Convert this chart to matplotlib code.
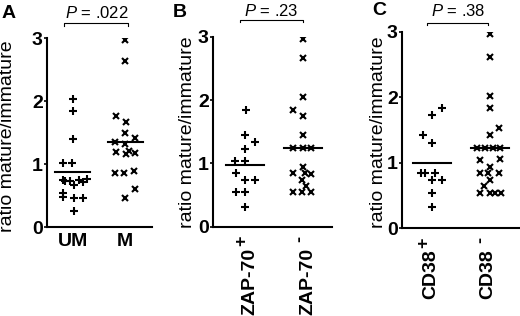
import matplotlib
matplotlib.use('Agg')
import matplotlib.pyplot as plt

plt.rcParams['font.family'] = ['Liberation Sans', 'DejaVu Sans']
plt.rcParams['mathtext.fontset'] = 'custom'
plt.rcParams['mathtext.rm'] = 'Liberation Sans'
plt.rcParams['mathtext.it'] = 'Liberation Sans:italic'
plt.rcParams['mathtext.bf'] = 'Liberation Sans:bold'

# panel A: unmutated (UM) vs mutated (M)
um_vals = [2.03, 1.85, 1.40, 1.02, 1.02, 0.75, 0.73, 0.73, 0.67, 0.75, 0.72, 0.77,
           0.54, 0.48, 0.47, 0.47, 0.26]
um_jit = [0, 0, 0, -0.18, -0.02, -0.19, -0.14, -0.05, 0.02, 0.11, 0.19, 0.28,
          -0.19, -0.19, 0.02, 0.19, 0.02]
m_vals = [2.97, 2.64, 1.77, 1.67, 1.49, 1.35, 1.33, 1.41, 1.20, 1.17, 1.21, 1.18,
          0.86, 0.86, 0.90, 0.61, 0.47]
m_jit = [0, 0, -0.17, 0.02, 0, -0.19, 0, 0.19, -0.17, 0.02, 0.08, 0.19,
         -0.19, -0.02, 0.17, 0.19, 0]
a_means = [0.88, 1.35]

# panel B: ZAP-70 positive vs negative
zp_vals = [1.84, 1.45, 1.33, 1.22, 1.03, 1.03, 0.84, 0.73, 0.73, 0.55, 0.55, 0.31]
zp_jit = [0.02, 0, 0.17, 0, -0.17, 0, -0.16, 0, 0.18, -0.16, 0, 0]
zn_vals = [2.97, 2.66, 2.04, 1.84, 1.75, 1.44, 1.25, 1.25, 1.25, 0.94, 0.84, 0.84,
           0.83, 0.73, 0.65, 0.54, 0.54, 0.54]
zn_jit = [0, 0, 0, -0.17, 0, 0, -0.17, 0, 0.14, 0, -0.17, 0.03,
          0.14, -0.02, 0.05, -0.17, -0.02, 0.14]
b_means = [0.97, 1.25]

# panel C: CD38 positive vs negative
cp_vals = [1.83, 1.73, 1.42, 1.30, 0.85, 0.85, 0.85, 0.74, 0.74, 0.54, 0.32]
cp_jit = [0.17, 0, -0.15, 0, -0.2, -0.13, 0.05, 0, 0.17, 0, 0]
cn_vals = [2.97, 2.62, 2.02, 1.83, 1.53, 1.43, 1.23, 1.23, 1.23, 1.23, 1.04, 1.05,
           0.94, 0.84, 0.84, 0.84, 0.74, 0.65, 0.54, 0.54, 0.54, 0.54]
cn_jit = [0, 0, 0, 0, 0.16, 0, -0.23, -0.09, 0.05, 0.18, -0.18, 0.18,
          0, -0.18, -0.04, 0.16, 0, -0.11, -0.18, 0, 0.09, 0.2]
c_means = [1.0, 1.22]

panels = [
    dict(letter='A', p='.022', labels=['UM', 'M'], signs=None,
         groups=[(um_vals, um_jit), (m_vals, m_jit)], means=a_means,
         rect=[0.0904, 0.2807, 0.2019, 0.598], xlim=(-0.49, 1.51),
         brk=(-0.16, 1.06, 3.24), ptxt=(0.45, 3.32), ylab=(-0.295, 0.48),
         let=(2, 18)),
    dict(letter='B', p='.23', labels=['ZAP-70', 'ZAP-70'], signs=['+', '-'],
         lab_dx=0.09, sign_dx=-0.05,
         groups=[(zp_vals, zp_jit), (zn_vals, zn_jit)], means=b_means,
         rect=[0.4096, 0.2826, 0.2288, 0.6013], xlim=(-0.55, 1.5),
         brk=(-0.09, 1.0, 3.27), ptxt=(0.46, 3.32), ylab=(-0.143, 0.5),
         let=(173, 17)),
    dict(letter='C', p='.38', labels=['CD38', 'CD38'], signs=['+', '-'],
         lab_dx=-0.03, sign_dx=-0.15,
         groups=[(cp_vals, cp_jit), (cn_vals, cn_jit)], means=c_means,
         rect=[0.7731, 0.2775, 0.2269, 0.6222], xlim=(-0.52, 1.52),
         brk=(-0.09, 0.97, 3.14), ptxt=(0.45, 3.24), ylab=(-0.127, 0.49),
         let=(372, 15)),
]

fig = plt.figure(figsize=(5.2, 3.16), dpi=100)

for pn in panels:
    ax = fig.add_axes(pn['rect'])
    for i, (vals, jit) in enumerate(pn['groups']):
        xs = [i + j for j in jit]
        ax.plot(xs, vals, ls='none', marker='+' if i == 0 else 'x',
                ms=5.4 if i == 0 else 4.8, mew=1.5, color='black')
        ax.plot([i - 0.33, i + 0.33], [pn['means'][i]] * 2, color='black', lw=1.5)
    ax.set_xlim(*pn['xlim'])
    ax.set_ylim(0, 3)
    ax.set_yticks([0, 1, 2, 3])
    ax.set_xticks([0, 1])
    for t in ax.get_yticklabels():
        t.set_fontweight('bold')
        t.set_fontsize(14)
    ax.tick_params(axis='y', length=2, width=1.2, pad=1)
    ax.tick_params(axis='x', length=0, pad=4)
    if pn['signs'] is None:
        ax.set_xticklabels(pn['labels'], fontsize=14, fontweight='bold')
    else:
        ax.set_xticklabels(['', ''])
        ah = pn['rect'][3] * 316
        tr = ax.get_xaxis_transform()
        for i, (lab, sg) in enumerate(zip(pn['labels'], pn['signs'])):
            ax.text(i + pn['lab_dx'], -21 / ah, lab, transform=tr, rotation=90,
                    ha='center', va='top', fontsize=14, fontweight='bold')
            ax.text(i + pn['sign_dx'], -9 / ah, sg, transform=tr, rotation=90,
                    ha='center', va='top', fontsize=13, fontweight='bold')
    for s in ['top', 'right']:
        ax.spines[s].set_visible(False)
    for s in ['left', 'bottom']:
        ax.spines[s].set_linewidth(1.5)
    ax.set_ylabel('ratio mature/immature', fontsize=14)
    ax.yaxis.set_label_coords(*pn['ylab'])

    x0, x1, yb = pn['brk']
    ax.plot([x0, x0, x1, x1], [yb - 0.04, yb, yb, yb - 0.04], color='black',
            lw=0.8, clip_on=False)
    ax.text(pn['ptxt'][0], pn['ptxt'][1], '$\\mathit{P}$ = ' + pn['p'],
            ha='center', va='baseline', fontsize=12, clip_on=False)

    fig.text(pn['let'][0] / 520, 1 - pn['let'][1] / 316, pn['letter'],
             fontsize=14, fontweight='bold', va='baseline', ha='left')

fig.savefig('out.png', dpi=100)
